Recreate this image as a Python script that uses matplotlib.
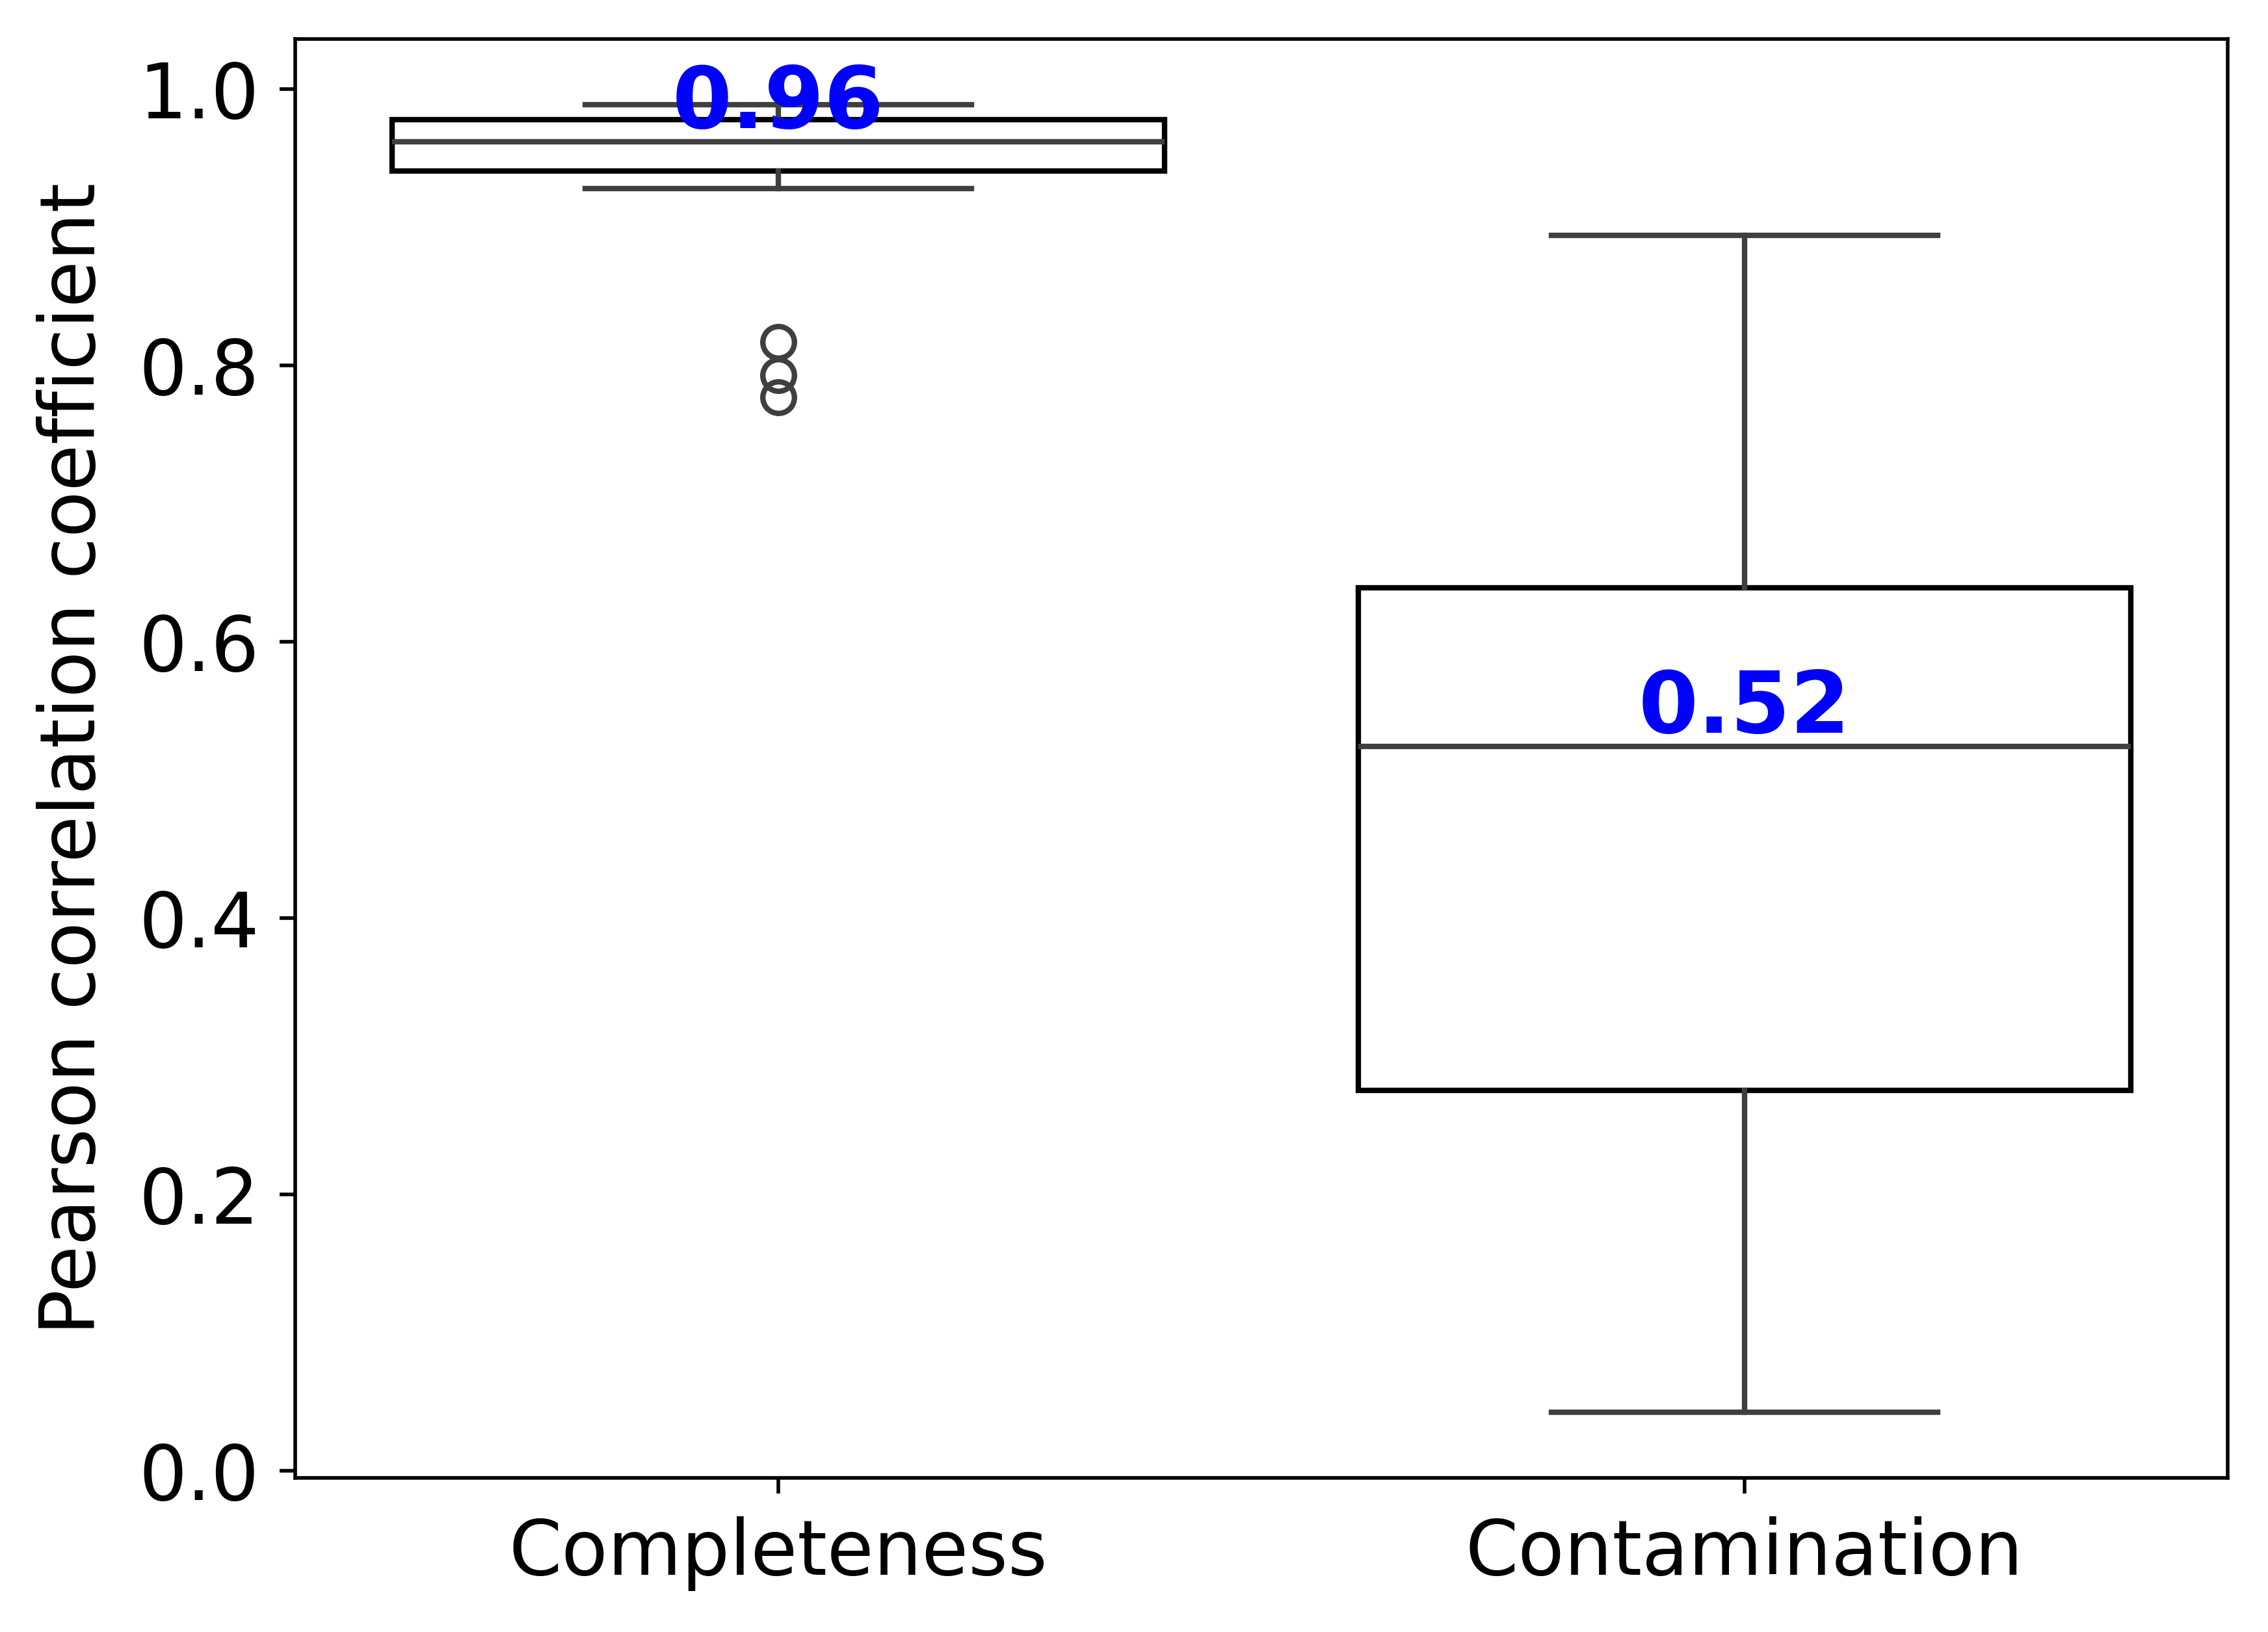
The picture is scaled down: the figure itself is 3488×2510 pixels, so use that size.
import matplotlib
matplotlib.use("Agg")
import matplotlib.pyplot as plt

categories = ["Completeness", "Contamination"]
q1 = [0.941, 0.275]
medians = [0.962, 0.524]
q3 = [0.978, 0.639]
whisker_low = [0.928, 0.042]
whisker_high = [0.989, 0.894]
fliers = [[0.817, 0.793, 0.777], []]
median_labels = ["0.96", "0.52"]

stats = []
for i, name in enumerate(categories):
    stats.append(dict(label=name, q1=q1[i], med=medians[i], q3=q3[i],
                      whislo=whisker_low[i], whishi=whisker_high[i],
                      fliers=fliers[i]))

fig = plt.figure(figsize=(6.976, 5.02), dpi=500)
ax = fig.add_axes([454/3488, 1 - 2273/2510, (3426-454)/3488, (2273-60)/2510])

gray = "#3f3f3f"
lw = 1.2
ax.bxp(stats, positions=range(len(categories)), widths=0.8, patch_artist=True,
       boxprops=dict(facecolor="white", edgecolor="black", linewidth=lw),
       whiskerprops=dict(color=gray, linewidth=lw),
       capprops=dict(color=gray, linewidth=lw),
       medianprops=dict(color=gray, linewidth=lw),
       flierprops=dict(marker="o", markerfacecolor="none", markeredgecolor=gray,
                       markersize=7, markeredgewidth=lw),
       capwidths=0.4)

ax.set_xlim(-0.5, 1.5)
ax.set_xticks(range(len(categories)))
ax.set_xticklabels(categories, fontsize=16.8)
ax.tick_params(axis="x", pad=5)
ax.tick_params(axis="y", labelsize=16.8, pad=4.5)
ax.set_ylabel("Pearson correlation coefficient", fontsize=16.8, labelpad=6)

for i, lab in enumerate(median_labels):
    ax.text(i, medians[i] + 0.01, lab, ha="center", va="baseline",
            color="blue", fontsize=19, fontweight="bold")

fig.savefig("out.png", dpi=500)
